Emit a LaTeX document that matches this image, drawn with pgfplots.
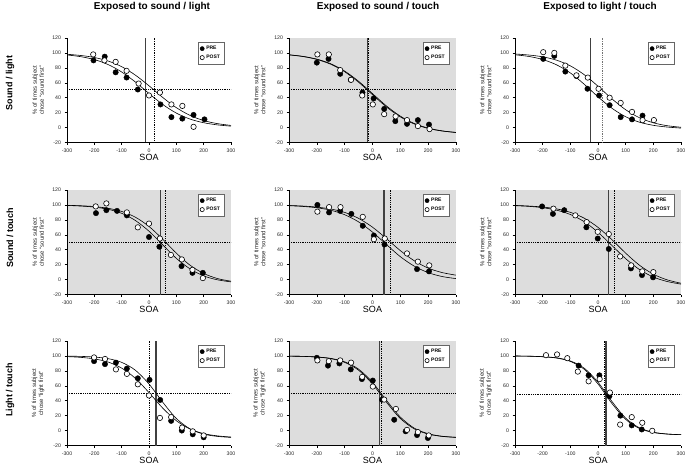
\documentclass[border=0pt]{standalone}
\usepackage{fontspec}
\setmainfont{Liberation Sans}
\usepackage{pgfplots}
\pgfplotsset{compat=1.18}
\definecolor{bggray}{RGB}{221,221,221}

\pgfplotsset{
  panel/.style={
    scale only axis, height=104.5pt,
    xmin=-300,xmax=300,ymin=-20,ymax=120,
    xtick={-300,-200,...,300}, ytick={-20,0,...,120},
    axis x line*=bottom, axis y line*=left,
    axis line style={line width=0.6pt, black},
    tick align=outside, major tick length=2.5pt,
    tick style={line width=0.5pt, black},
    ticklabel style={font=\fontsize{5.2}{6}\selectfont, text=black!85},
    /pgf/number format/assume math mode=true,
    xlabel={SOA},
    every axis x label/.append style={at={(axis description cs:0.5,-0.14)}, anchor=center, font=\fontsize{9}{10}\selectfont},
    every axis y label/.append style={at={(axis description cs:-0.176,0.5)}, anchor=center, font=\fontsize{6}{7}\selectfont, align=center, text=black!85},
    legend style={at={(axis description cs:0.958,0.962)}, anchor=north east, draw=black!60, line width=0.4pt, fill=white,
      font=\fontsize{5}{5.5}\selectfont\bfseries, inner xsep=2pt, inner ysep=2pt, row sep=0pt, cells={anchor=west}},
    legend image code/.code={\draw[mark repeat=2,mark phase=2,#1,mark size=2.1pt] plot coordinates {(0pt,0pt)(3.5pt,0pt)(7pt,0pt)};},
  },
  pre/.style={only marks, mark=*, mark size=2.7pt, mark options={fill=black, draw=black}},
  post/.style={only marks, mark=*, mark size=2.7pt, mark options={fill=white, draw=black, line width=0.6pt}},
  fitc/.style={no marks, smooth, black, line width=0.6pt, forget plot},
  vsolid/.style={no marks, black!75, line width=1.3pt, forget plot},
  vdot/.style={no marks, black, densely dotted, line width=0.8pt, forget plot},
  gbg/.style={axis background/.style={fill=bggray}},
}

\begin{document}
\begin{tikzpicture}
\path[use as bounding box] (0,0) rectangle (685pt,467pt);

% ---------------- Row 1 ----------------
\begin{axis}[panel, width=164pt, at={(67pt,429pt)}, anchor=north west,
  ylabel={\% of times subject\\chose ``sound first''}]
\addplot[vdot] coordinates {(-300,51) (300,51)};
\addplot[vsolid] coordinates {(-14,-20) (-14,120)};
\addplot[vdot] coordinates {(19,-20) (19,120)};
\addplot[fitc] coordinates {(-300,97.3)(-250,95.0)(-200,91.1)(-150,84.5)(-100,74.5)(-50,61.1)(0,45.6)(50,31.0)(100,19.4)(150,11.4)(200,6.5)(250,3.6)(300,1.9)};
\addplot[fitc] coordinates {(-300,98.2)(-250,96.6)(-200,93.9)(-150,89.2)(-100,81.6)(-50,70.3)(0,56.0)(50,40.4)(100,26.7)(150,16.3)(200,9.4)(250,5.3)(300,2.9)};
\addplot[pre] coordinates {(-203,90)(-162,95)(-122,74)(-82,67)(-41,51)(42,31)(82,14)(122,12)(163,17)(203,11)};
\addplot[post] coordinates {(-204,98)(-163,90)(-122,88)(-82,76)(-38,59)(0,43)(40,47)(82,31)(122,29)(163,1)};
\legend{PRE,POST}
\end{axis}

\begin{axis}[panel, gbg, width=167pt, at={(289pt,429pt)}, anchor=north west,
  ylabel={\% of times subject\\chose ``sound first''}]
\addplot[vdot] coordinates {(-300,51) (300,51)};
\addplot[vsolid] coordinates {(-17,-20) (-17,120)};
\addplot[vdot] coordinates {(-13,-20) (-13,120)};
\addplot[fitc] coordinates {(-300,97.4)(-250,95.2)(-200,91.3)(-150,84.8)(-100,74.8)(-50,60.8)(0,44.1)(50,27.7)(100,14.3)(150,4.8)(200,-1.2)(250,-4.6)(300,-6.6)};
\addplot[fitc] coordinates {(-300,97.5)(-250,95.4)(-200,91.7)(-150,85.5)(-100,75.7)(-50,62.0)(0,45.5)(50,29.0)(100,15.3)(150,5.5)(200,-0.7)(250,-4.4)(300,-6.5)};
\addplot[pre] coordinates {(-200,87)(-158,92)(-116,72)(-78,64)(-36,47)(4,39)(42,25)(82,8.6)(124,5)(163,10)(203,4)};
\addplot[post] coordinates {(-198,98)(-157,98)(-116,77)(-77,64)(-37,43)(1,31)(42,18)(83,15)(124,10)(163,2)(205,-2)};
\legend{PRE,POST}
\end{axis}

\begin{axis}[panel, width=166pt, at={(515pt,429pt)}, anchor=north west,
  ylabel={\% of times subject\\chose ``sound first''}]
\addplot[vsolid] coordinates {(-26,-20) (-26,120)};
\addplot[no marks, black!55, densely dotted, line width=0.8pt, forget plot] coordinates {(16,-20) (16,120)};
\addplot[fitc] coordinates {(-300,97.5)(-250,95.3)(-200,91.2)(-150,84.1)(-100,73.2)(-50,58.1)(0,41.2)(50,26.0)(100,14.5)(150,7.2)(200,3.0)(250,0.7)(300,-0.7)};
\addplot[fitc] coordinates {(-300,98.6)(-250,97.2)(-200,94.8)(-150,90.3)(-100,82.7)(-50,70.9)(0,55.4)(50,38.6)(100,23.9)(150,13.1)(200,6.4)(250,2.5)(300,0.4)};
\addplot[pre] coordinates {(-198,92)(-158,96)(-118,75)(-78,69)(-38,52)(4,43)(42,30)(82,14)(123,11)(161,16)};
\addplot[post] coordinates {(-198,101)(-158,100)(-118,83)(-78,70)(-37,67)(2,52)(42,40)(82,33)(123,21)(161,10)(202,10)};
\legend{PRE,POST}
\end{axis}

% ---------------- Row 2 ----------------
\begin{axis}[panel, gbg, width=164pt, at={(67pt,277pt)}, anchor=north west,
  ylabel={\% of times subject\\chose ``sound first''}]
\addplot[vdot] coordinates {(-300,50) (300,50)};
\addplot[vsolid] coordinates {(41,-20) (41,120)};
\addplot[vdot] coordinates {(61,-20) (61,120)};
\addplot[fitc] coordinates {(-300,99.3)(-250,98.5)(-200,97.1)(-150,94.2)(-100,88.8)(-50,79.2)(0,64.8)(50,46.6)(100,28.4)(150,14.4)(200,4.9)(250,-0.3)(300,-3.1)};
\addplot[fitc] coordinates {(-300,99.5)(-250,98.9)(-200,97.8)(-150,95.5)(-100,91.3)(-50,83.6)(0,71.2)(50,54.1)(100,35.4)(150,19.3)(200,8.2)(250,1.4)(300,-2.2)};
\addplot[pre] coordinates {(-194,89)(-156,93)(-117,92)(-81,86)(0,57)(38,44)(119,18)(159,9)(197,9)};
\addplot[post] coordinates {(-195,98)(-156,102)(-81,90)(-41,70)(0,75)(40,55)(80,33)(120,27)(159,13)(197,2)};
\legend{PRE,POST}
\end{axis}

\begin{axis}[panel, gbg, width=167pt, at={(289pt,277pt)}, anchor=north west,
  ylabel={\% of times subject\\chose ``sound first''}]
\addplot[vdot] coordinates {(-300,50) (300,50)};
\addplot[vsolid] coordinates {(41,-20) (41,120)};
\addplot[vdot] coordinates {(65,-20) (65,120)};
\addplot[fitc] coordinates {(-300,99.0)(-250,98.0)(-200,96.2)(-150,92.9)(-100,86.9)(-50,77.3)(0,63.6)(50,47.0)(100,30.7)(150,18.0)(200,9.3)(250,4.1)(300,1.3)};
\addplot[fitc] coordinates {(-300,99.2)(-250,98.5)(-200,97.1)(-150,94.5)(-100,90.0)(-50,82.0)(0,70.2)(50,54.9)(100,38.8)(150,25.2)(200,15.4)(250,9.4)(300,5.9)};
\addplot[pre] coordinates {(-198,100)(-156,90)(-116,92)(-76,88)(-35,72)(5,59)(43,47)(160,14)(203,11)};
\addplot[post] coordinates {(-198,91)(-156,97)(-115,97)(-35,84)(5,54)(44,55)(124,35)(163,24)(204,19)};
\legend{PRE,POST}
\end{axis}

\begin{axis}[panel, gbg, width=166pt, at={(515pt,277pt)}, anchor=north west,
  ylabel={\% of times subject\\chose ``sound first''}]
\addplot[vdot] coordinates {(-300,50) (300,50)};
\addplot[vsolid] coordinates {(38,-20) (38,120)};
\addplot[vdot] coordinates {(60,-20) (60,120)};
\addplot[fitc] coordinates {(-300,99.0)(-250,98.1)(-200,96.3)(-150,93.0)(-100,87.2)(-50,77.6)(0,63.3)(50,45.8)(100,28.0)(150,13.4)(200,3.4)(250,-2.6)(300,-6.1)};
\addplot[fitc] coordinates {(-300,99.3)(-250,98.5)(-200,97.2)(-150,94.7)(-100,90.1)(-50,82.3)(0,70.0)(50,53.6)(100,35.4)(150,19.2)(200,7.2)(250,-0.4)(300,-4.9)};
\addplot[pre] coordinates {(-202,98)(-163,88)(-122,93)(-42,70)(-1,55)(39,41)(119,15)(159,6)(199,3)};
\addplot[post] coordinates {(-161,95)(-82,86)(-41,77)(-1,64)(39,61)(80,31)(120,19)(160,11)(200,10)};
\legend{PRE,POST}
\end{axis}

% ---------------- Row 3 ----------------
\begin{axis}[panel, width=164pt, at={(67pt,126pt)}, anchor=north west,
  ylabel={\% of times subject\\chose ``light first''}]
\addplot[vdot] coordinates {(-300,50) (300,50)};
\addplot[vdot] coordinates {(2,-20) (2,120)};
\addplot[vsolid] coordinates {(26,-20) (26,120)};
\addplot[fitc] coordinates {(-300,99.7)(-250,99.4)(-200,98.5)(-150,96.4)(-100,91.4)(-50,80.9)(0,62.4)(50,38.1)(100,16.2)(150,2.3)(200,-4.7)(250,-7.8)(300,-9.1)};
\addplot[fitc] coordinates {(-300,99.1)(-250,98.1)(-200,96.0)(-150,91.9)(-100,83.7)(-50,70.1)(0,50.9)(50,30.2)(100,13.2)(150,2.1)(200,-4.1)(250,-7.1)(300,-8.7)};
\addplot[pre] coordinates {(-201,93)(-161,89)(-121,91)(-81,83)(-41,70)(2,68)(41,41)(81,13)(120,0)(160,-5)(200,-9)};
\addplot[post] coordinates {(-201,98)(-161,96)(-121,82)(-81,76)(-41,62)(0,47)(40,17)(81,18)(121,4)(160,-1)(200,-6.5)};
\legend{PRE,POST}
\end{axis}

\begin{axis}[panel, gbg, width=167pt, at={(289pt,126pt)}, anchor=north west,
  ylabel={\% of times subject\\chose ``light first''}]
\addplot[vdot] coordinates {(-300,50) (300,50)};
\addplot[vsolid] coordinates {(26,-20) (26,120)};
\addplot[vdot] coordinates {(31,-20) (31,120)};
\addplot[fitc] coordinates {(-300,99.7)(-250,99.4)(-200,98.5)(-150,96.4)(-100,91.4)(-50,80.9)(0,62.4)(50,38.1)(100,16.2)(150,2.3)(200,-4.7)(250,-7.8)(300,-9.1)};
\addplot[fitc] coordinates {(-300,99.8)(-250,99.4)(-200,98.6)(-150,96.7)(-100,92.1)(-50,82.3)(0,64.6)(50,40.5)(100,18.1)(150,3.3)(200,-4.2)(250,-7.6)(300,-9.0)};
\addplot[pre] coordinates {(-200,97.5)(-160,87)(-119,90)(-78,82)(-38,69)(1,67)(34,41.5)(78,14.5)(119,-1)(160,-6)(199,-10)};
\addplot[post] coordinates {(-198,94)(-157,93)(-116,94)(-77,91)(-37,72)(1,59)(42,41.5)(84,29)(124,1)(163,-2)(202,-6.5)};
\legend{PRE,POST}
\end{axis}

\begin{axis}[panel, width=166pt, at={(515pt,126pt)}, anchor=north west,
  ylabel={\% of times subject\\chose ``light first''}]
\addplot[vdot] coordinates {(-300,49) (300,49)};
\addplot[vdot] coordinates {(24,-20) (24,120)};
\addplot[vsolid] coordinates {(29,-20) (29,120)};
\addplot[fitc] coordinates {(-300,99.9)(-250,99.7)(-200,99.0)(-150,97.5)(-100,93.3)(-50,83.6)(0,64.8)(50,39.2)(100,16.7)(150,3.6)(200,-2.2)(250,-4.6)(300,-5.5)};
\addplot[fitc] coordinates {(-300,99.9)(-250,99.6)(-200,98.9)(-150,97.2)(-100,92.7)(-50,82.2)(0,62.5)(50,36.5)(100,15.0)(150,2.8)(200,-2.6)(250,-4.7)(300,-5.5)};
\addplot[pre] coordinates {(-70,87)(-34,74)(5,74)(41,46)(81,20)(122,7)(158,1.5)};
\addplot[post] coordinates {(-188,101)(-148,102)(-111,97)(-73,79)(-34,66)(6,69)(43,51)(80,8)(122,18)(160,10.5)(196,-0.3)};
\legend{PRE,POST}
\end{axis}

% titles
\node[font=\fontsize{10}{12}\selectfont\bfseries, anchor=base] at (152pt,457pt) {Exposed to sound / light};
\node[font=\fontsize{10}{12}\selectfont\bfseries, anchor=base] at (378pt,457pt) {Exposed to sound / touch};
\node[font=\fontsize{10}{12}\selectfont\bfseries, anchor=base] at (600pt,457pt) {Exposed to light / touch};
% row labels
\node[font=\fontsize{9}{11}\selectfont\bfseries, rotate=90, anchor=center] at (10pt,384pt) {Sound / light};
\node[font=\fontsize{9}{11}\selectfont\bfseries, rotate=90, anchor=center] at (10pt,229pt) {Sound / touch};
\node[font=\fontsize{9}{11}\selectfont\bfseries, rotate=90, anchor=center] at (10pt,77pt) {Light / touch};
\end{tikzpicture}
\end{document}
